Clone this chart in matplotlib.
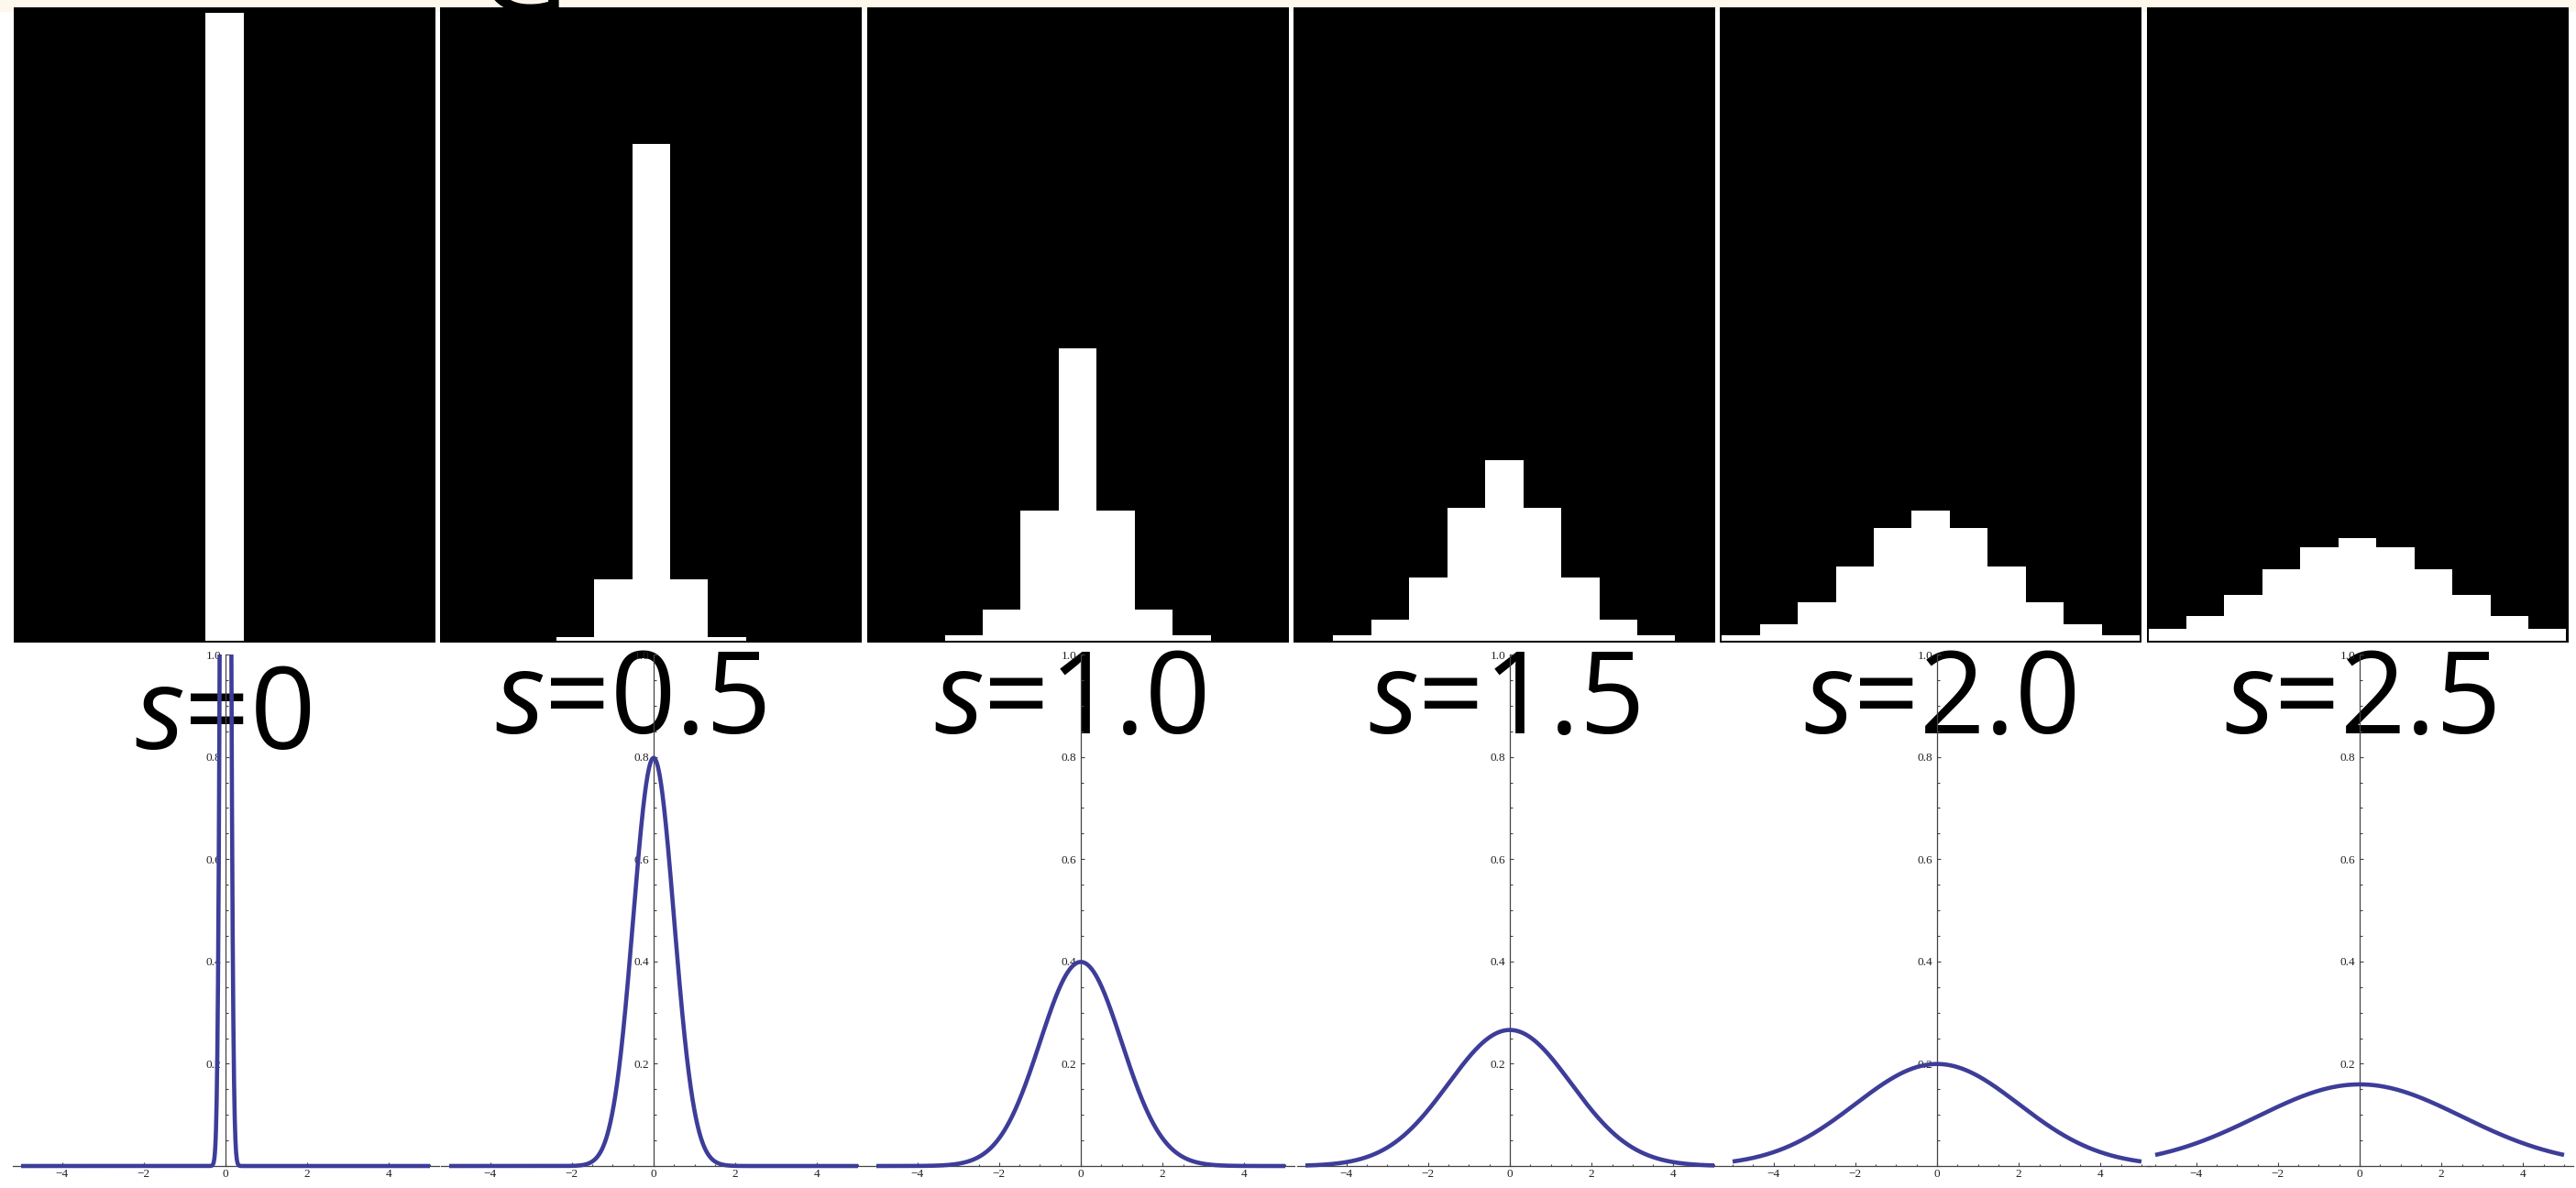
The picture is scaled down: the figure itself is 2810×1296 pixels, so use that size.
import numpy as np
import matplotlib
matplotlib.use("Agg")
import matplotlib.pyplot as plt
from matplotlib.patches import Rectangle
from matplotlib.ticker import FixedLocator, MultipleLocator

W, H, DPI = 2810, 1296, 100

plt.rcParams['mathtext.fontset'] = 'custom'
plt.rcParams['mathtext.rm'] = 'Open Sans'
plt.rcParams['mathtext.it'] = 'Open Sans:italic'

# --- data -----------------------------------------------------------------
labels = ["0", "0.5", "1.0", "1.5", "2.0", "2.5"]

# discrete kernels shown in the black panels, bins -5..5
bins = np.arange(-5, 6)
hist_s00 = [0, 0, 0, 0, 0, 1.000, 0, 0, 0, 0, 0]
hist_s05 = [0, 0, 0, 0.006, 0.098, 0.791, 0.098, 0.006, 0, 0, 0]
hist_s10 = [0, 0, 0.008, 0.050, 0.208, 0.466, 0.208, 0.050, 0.008, 0, 0]
hist_s15 = [0, 0.009, 0.034, 0.100, 0.211, 0.288, 0.211, 0.100, 0.034, 0.009, 0]
hist_s20 = [0.009, 0.026, 0.061, 0.118, 0.179, 0.207, 0.179, 0.118, 0.061, 0.026, 0.009]
hist_s25 = [0.019, 0.040, 0.073, 0.114, 0.149, 0.163, 0.149, 0.114, 0.073, 0.040, 0.019]
hists = [hist_s00, hist_s05, hist_s10, hist_s15, hist_s20, hist_s25]

# widths of the normal curves in the bottom row (s=0 drawn as a very narrow peak)
curve_sigma = [0.08, 0.5, 1.0, 1.5, 2.0, 2.5]

# --- layout (pixels) ------------------------------------------------------
def box(x0, y0, x1, y1):
    return [x0 / W, 1 - y1 / H, (x1 - x0) / W, (y1 - y0) / H]

top_left = [15 + i * 465.3 for i in range(6)]
zero_px = [246, 713, 1179, 1647, 2113, 2574]
UX, UY = 44.6, 558.0
label_cx = [243, 688, 1167, 1641, 2116, 2575]
label_base = [817, 800, 800, 800, 800, 800]

CURVE = '#3d3d99'
AXC = '#444444'

fig = plt.figure(figsize=(W / DPI, H / DPI), dpi=DPI)
fig.patch.set_facecolor('white')

# cream strip along the top edge
fig.patches.append(Rectangle((0, 1 - 13 / H), 1, 13 / H, transform=fig.transFigure,
                             facecolor='#fdf8eb', edgecolor='none', zorder=-3))
# bottom of a large cut-off letter at the top
fig.text(569 / W, 1 - 13 / H, 'G', ha='center', va='baseline', fontsize=100,
         family='Open Sans', color='black', zorder=-2)

# --- top row: black panels with white histograms -------------------------
for i, h in enumerate(hists):
    ax = fig.add_axes(box(top_left[i], 8, top_left[i] + 460, 701))
    ax.set_facecolor('black')
    ax.stairs(h, np.append(bins - 0.5, 5.5), fill=True, color='white', baseline=0)
    ax.set_xlim(-5.55, 5.55)
    ax.set_ylim(-0.003, 1.009)
    ax.set_xticks([]); ax.set_yticks([])
    for sp in ax.spines.values():
        sp.set_visible(False)

# --- bottom row: normal curves -------------------------------------------
xs = np.linspace(-5, 5, 1201)
for i, sig in enumerate(curve_sigma):
    x0 = zero_px[i]
    ax = fig.add_axes(box(x0 - 5.2 * UX, 1272 - 1.0 * UY, x0 + 5.22 * UX, 1272 + 0.05 * UY))
    ax.patch.set_visible(False)
    ys = np.exp(-xs ** 2 / (2 * sig ** 2)) / (sig * np.sqrt(2 * np.pi))
    ax.plot(xs, ys, color=CURVE, lw=3.3, solid_capstyle='butt', zorder=3)
    ax.set_xlim(-5.2, 5.22)
    ax.set_ylim(-0.05, 1.0)

    ax.spines['top'].set_visible(False)
    ax.spines['right'].set_visible(False)
    ax.spines['left'].set_position(('data', 0))
    ax.spines['bottom'].set_position(('data', 0))
    ax.spines['left'].set_bounds(0, 1.0)
    for sp in ('left', 'bottom'):
        ax.spines[sp].set_color(AXC)
        ax.spines[sp].set_linewidth(0.9)

    ax.xaxis.set_major_locator(FixedLocator([-4, -2, 0, 2, 4]))
    ax.xaxis.set_minor_locator(MultipleLocator(0.5))
    ax.yaxis.set_major_locator(FixedLocator([0.2, 0.4, 0.6, 0.8, 1.0]))
    ax.yaxis.set_minor_locator(MultipleLocator(0.05))
    ax.set_xticklabels(['\u22124', '\u22122', '0', '2', '4'])
    ax.set_yticklabels(['0.2', '0.4', '0.6', '0.8', '1.0'])
    ax.tick_params(which='both', direction='in', color=AXC, width=0.8)
    ax.tick_params(which='major', length=3.0)
    ax.tick_params(which='minor', length=1.8)
    ax.tick_params(axis='x', which='major', pad=2.5)
    ax.tick_params(axis='y', which='major', pad=3.5)
    for t in ax.get_xticklabels() + ax.get_yticklabels():
        t.set_fontfamily('Liberation Serif')
        t.set_fontsize(9.5)
        t.set_color('#222222')

# --- big labels, drawn beneath the curves ---------------------------------
for i, lab in enumerate(labels):
    fig.text(label_cx[i] / W, 1 - label_base[i] / H, r'$s$=' + lab,
             ha='center', va='baseline', fontsize=90, family='Open Sans',
             color='black', zorder=-1)

fig.savefig('out.png', dpi=DPI, facecolor='white')
